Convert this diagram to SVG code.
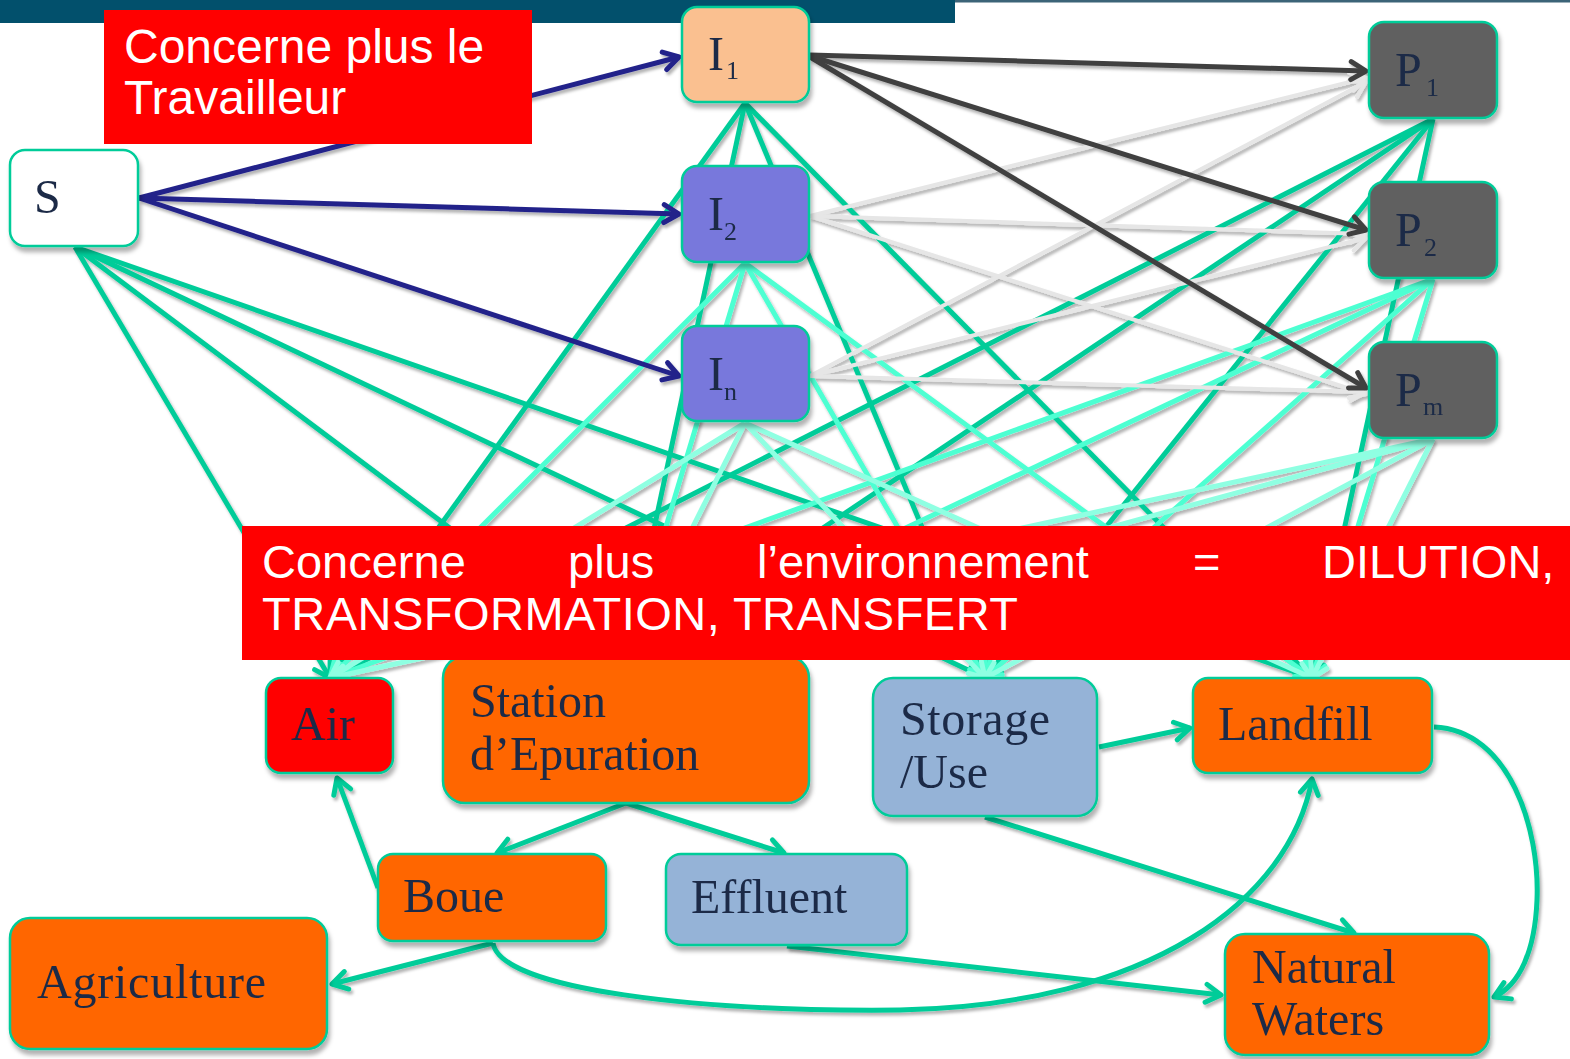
<svg xmlns="http://www.w3.org/2000/svg" width="1570" height="1059" viewBox="0 0 1570 1059">
<style>
.node rect{stroke:#00CC99;stroke-width:2.5}
.lbl{font-family:"Liberation Serif","Times New Roman",serif;font-size:48px;fill:#1B2A47}
.sub{font-family:"Liberation Serif","Times New Roman",serif;font-size:26px;fill:#1B2A47}
.note{font-family:"Liberation Sans",Arial,sans-serif;fill:#FFFFFF}
.g1{stroke:#00CC99;stroke-width:5;fill:none;marker-end:url(#mG1)}
.g2{stroke:#4DFFD2;stroke-width:5;fill:none;marker-end:url(#mG2)}
.g3{stroke:#8FFFE2;stroke-width:5;fill:none;marker-end:url(#mG3)}
.lt{stroke:#E6E6E6;stroke-width:4;fill:none;marker-end:url(#mLt)}
.dk{stroke:#404040;stroke-width:5;fill:none;marker-end:url(#mDk)}
.nv{stroke:#22228A;stroke-width:5;fill:none;marker-end:url(#mNv)}
.fl{stroke:#00CC99;stroke-width:5;fill:none;marker-end:url(#mG1)}
</style>
<defs>
<filter id="sh" filterUnits="userSpaceOnUse" x="0" y="0" width="1570" height="1059">
<feDropShadow dx="2" dy="3" stdDeviation="1.5" flood-color="#000" flood-opacity="0.3"/>
</filter>
<filter id="nsh" filterUnits="userSpaceOnUse" x="0" y="0" width="1570" height="1059">
<feDropShadow dx="2" dy="5" stdDeviation="2" flood-color="#000" flood-opacity="0.3"/>
</filter>
<marker id="mG1" markerUnits="userSpaceOnUse" viewBox="-20 -12 24 24" markerWidth="24" markerHeight="24" refX="0" refY="0" orient="auto"><path d="M-15,-9 L0,0 L-15,9" fill="none" stroke="#00CC99" stroke-width="5" stroke-linecap="round" stroke-linejoin="round"/></marker>
<marker id="mG2" markerUnits="userSpaceOnUse" viewBox="-20 -12 24 24" markerWidth="24" markerHeight="24" refX="0" refY="0" orient="auto"><path d="M-15,-9 L0,0 L-15,9" fill="none" stroke="#4DFFD2" stroke-width="5" stroke-linecap="round" stroke-linejoin="round"/></marker>
<marker id="mG3" markerUnits="userSpaceOnUse" viewBox="-20 -12 24 24" markerWidth="24" markerHeight="24" refX="0" refY="0" orient="auto"><path d="M-15,-9 L0,0 L-15,9" fill="none" stroke="#8FFFE2" stroke-width="5" stroke-linecap="round" stroke-linejoin="round"/></marker>
<marker id="mLt" markerUnits="userSpaceOnUse" viewBox="-20 -12 24 24" markerWidth="24" markerHeight="24" refX="0" refY="0" orient="auto"><path d="M-15,-9 L0,0 L-15,9" fill="none" stroke="#E6E6E6" stroke-width="4" stroke-linecap="round" stroke-linejoin="round"/></marker>
<marker id="mDk" markerUnits="userSpaceOnUse" viewBox="-20 -12 24 24" markerWidth="24" markerHeight="24" refX="0" refY="0" orient="auto"><path d="M-15,-9 L0,0 L-15,9" fill="none" stroke="#404040" stroke-width="5" stroke-linecap="round" stroke-linejoin="round"/></marker>
<marker id="mNv" markerUnits="userSpaceOnUse" viewBox="-20 -12 24 24" markerWidth="24" markerHeight="24" refX="0" refY="0" orient="auto"><path d="M-15,-9 L0,0 L-15,9" fill="none" stroke="#22228A" stroke-width="5" stroke-linecap="round" stroke-linejoin="round"/></marker>
</defs>
<rect x="0" y="0" width="1570" height="1059" fill="#FFFFFF"/>
<rect x="0" y="0" width="1570" height="2.5" fill="#3C6478"/>
<rect x="0" y="0" width="955" height="23" fill="#02506C"/>

<g id="connectors" filter="url(#sh)">
<!-- S -->
<line class="g1" x1="75" y1="247" x2="330" y2="678"/>
<line class="g1" x1="75" y1="247" x2="626" y2="660"/>
<line class="g1" x1="75" y1="247" x2="985" y2="678"/>
<line class="g1" x1="75" y1="247" x2="1312" y2="678"/>
<!-- I1 -->
<line class="g1" x1="745" y1="103" x2="330" y2="678"/>
<line class="g1" x1="745" y1="103" x2="626" y2="660"/>
<line class="g1" x1="745" y1="103" x2="985" y2="678"/>
<line class="g1" x1="745" y1="103" x2="1312" y2="678"/>
<!-- P1 -->
<line class="g1" x1="1433" y1="119" x2="330" y2="678"/>
<line class="g1" x1="1433" y1="119" x2="626" y2="660"/>
<line class="g1" x1="1433" y1="119" x2="985" y2="678"/>
<line class="g1" x1="1433" y1="119" x2="1312" y2="678"/>
<!-- I2 -->
<line class="g2" x1="745" y1="263" x2="330" y2="678"/>
<line class="g2" x1="745" y1="263" x2="626" y2="660"/>
<line class="g2" x1="745" y1="263" x2="985" y2="678"/>
<line class="g2" x1="745" y1="263" x2="1312" y2="678"/>
<!-- P2 -->
<line class="g2" x1="1433" y1="279" x2="330" y2="678"/>
<line class="g2" x1="1433" y1="279" x2="626" y2="660"/>
<line class="g2" x1="1433" y1="279" x2="985" y2="678"/>
<line class="g2" x1="1433" y1="279" x2="1312" y2="678"/>
<!-- In -->
<line class="g3" x1="745" y1="423" x2="330" y2="678"/>
<line class="g3" x1="745" y1="423" x2="626" y2="660"/>
<line class="g3" x1="745" y1="423" x2="985" y2="678"/>
<line class="g3" x1="745" y1="423" x2="1312" y2="678"/>
<!-- Pm -->
<line class="g3" x1="1433" y1="439" x2="330" y2="678"/>
<line class="g3" x1="1433" y1="439" x2="626" y2="660"/>
<line class="g3" x1="1433" y1="439" x2="985" y2="678"/>
<line class="g3" x1="1433" y1="439" x2="1312" y2="678"/>
<!-- light I2/In to P -->
<line class="lt" x1="810" y1="216" x2="1366" y2="78"/>
<line class="lt" x1="810" y1="216" x2="1366" y2="234"/>
<line class="lt" x1="810" y1="216" x2="1366" y2="394"/>
<line class="lt" x1="810" y1="376" x2="1366" y2="82"/>
<line class="lt" x1="810" y1="376" x2="1366" y2="238"/>
<line class="lt" x1="810" y1="376" x2="1366" y2="392"/>
<!-- dark I1 to P -->
<line class="dk" x1="810" y1="55" x2="1366" y2="71"/>
<line class="dk" x1="810" y1="56" x2="1366" y2="230"/>
<line class="dk" x1="810" y1="57" x2="1366" y2="388"/>
<!-- navy S to I -->
<line class="nv" x1="139" y1="198" x2="679" y2="57"/>
<line class="nv" x1="139" y1="198" x2="679" y2="214"/>
<line class="nv" x1="139" y1="198" x2="679" y2="376"/>
<!-- lower flows -->
<line class="fl" x1="1099" y1="747" x2="1190" y2="728"/>
<line class="fl" x1="626" y1="803" x2="497" y2="853"/>
<line class="fl" x1="626" y1="803" x2="784" y2="853"/>
<line class="fl" x1="378" y1="888" x2="337" y2="778"/>
<line class="fl" x1="493" y1="943" x2="332" y2="984"/>
<line class="fl" x1="985" y1="817" x2="1354" y2="933"/>
<line class="fl" x1="787" y1="946" x2="1221" y2="995"/>
<path class="fl" d="M493,943 C500,990 700,1012 900,1010 C1150,1005 1290,900 1312,779"/>
<path class="fl" d="M1434,727 C1510,730 1540,830 1537,900 C1535,950 1520,985 1494,997"/>
</g>

<g id="node-S" class="node" filter="url(#nsh)"><rect x="10" y="150" width="128" height="96" rx="15" fill="#FFFFFF"/><text class="lbl" x="34" y="213">S</text></g>
<g id="node-I1" class="node" filter="url(#nsh)"><rect x="682" y="7" width="127" height="95" rx="15" fill="#FAC090"/><text class="lbl" x="708" y="70">I</text><text class="sub" x="726" y="79">1</text></g>
<g id="node-I2" class="node" filter="url(#nsh)"><rect x="682" y="166" width="127" height="96" rx="15" fill="#7878DC"/><text class="lbl" x="708" y="230">I</text><text class="sub" x="724" y="240">2</text></g>
<g id="node-In" class="node" filter="url(#nsh)"><rect x="682" y="326" width="127" height="95" rx="15" fill="#7878DC"/><text class="lbl" x="708" y="390">I</text><text class="sub" x="724" y="400">n</text></g>
<g id="node-P1" class="node" filter="url(#nsh)"><rect x="1369" y="22" width="128" height="96" rx="15" fill="#606060"/><text class="lbl" x="1395" y="86">P</text><text class="sub" x="1426" y="96">1</text></g>
<g id="node-P2" class="node" filter="url(#nsh)"><rect x="1369" y="182" width="128" height="96" rx="15" fill="#606060"/><text class="lbl" x="1395" y="246">P</text><text class="sub" x="1424" y="256">2</text></g>
<g id="node-Pm" class="node" filter="url(#nsh)"><rect x="1369" y="342" width="128" height="96" rx="15" fill="#606060"/><text class="lbl" x="1395" y="406">P</text><text class="sub" x="1423" y="415">m</text></g>

<g id="node-Air" class="node" filter="url(#nsh)"><rect x="266" y="678" width="127" height="95" rx="15" fill="#FF0000"/><text class="lbl" x="291" y="740">Air</text></g>
<g id="node-Station" class="node" filter="url(#nsh)"><rect x="443" y="656" width="366" height="147" rx="22" fill="#FF6600"/><text class="lbl" x="470" y="717">Station</text><text class="lbl" x="470" y="770">d’Epuration</text></g>
<g id="node-Storage" class="node" filter="url(#nsh)"><rect x="873" y="678" width="224" height="138" rx="20" fill="#95B3D7"/><text class="lbl" x="900" y="735" textLength="150">Storage</text><text class="lbl" x="900" y="788">/Use</text></g>
<g id="node-Landfill" class="node" filter="url(#nsh)"><rect x="1193" y="678" width="239" height="95" rx="15" fill="#FF6600"/><text class="lbl" x="1218" y="740">Landfill</text></g>
<g id="node-Boue" class="node" filter="url(#nsh)"><rect x="378" y="854" width="228" height="87" rx="15" fill="#FF6600"/><text class="lbl" x="403" y="912">Boue</text></g>
<g id="node-Effluent" class="node" filter="url(#nsh)"><rect x="666" y="854" width="241" height="91" rx="15" fill="#95B3D7"/><text class="lbl" x="691" y="913">Effluent</text></g>
<g id="node-Agriculture" class="node" filter="url(#nsh)"><rect x="10" y="918" width="317" height="131" rx="20" fill="#FF6600"/><text class="lbl" x="37" y="998" textLength="229">Agriculture</text></g>
<g id="node-NaturalWaters" class="node" filter="url(#nsh)"><rect x="1225" y="934" width="264" height="121" rx="20" fill="#FF6600"/><text class="lbl" x="1252" y="983">Natural</text><text class="lbl" x="1252" y="1035">Waters</text></g>

<g id="note-travailleur"><rect x="104" y="10" width="428" height="134" fill="#FF0000"/><text class="note" font-size="48" x="124" y="63">Concerne plus le</text><text class="note" font-size="48" x="124" y="114">Travailleur</text></g>
<g id="note-environnement"><rect x="242" y="526" width="1328" height="134" fill="#FF0000"/>
<text class="note" font-size="47" y="578"><tspan x="262">Concerne</tspan><tspan x="568">plus</tspan><tspan x="757">l’environnement</tspan><tspan x="1193">=</tspan><tspan x="1322">DILUTION,</tspan></text>
<text class="note" font-size="47" x="262" y="630" textLength="756">TRANSFORMATION, TRANSFERT</text></g>
</svg>
